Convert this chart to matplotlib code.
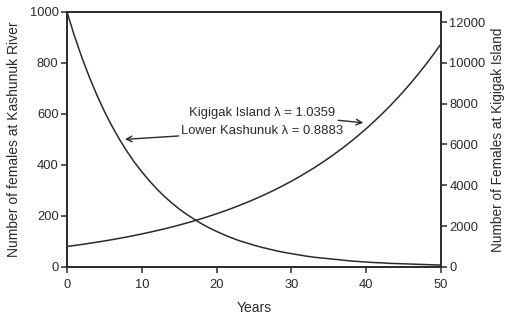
import matplotlib
matplotlib.use("Agg")
import matplotlib.pyplot as plt

plt.rcParams['font.family'] = ['Liberation Sans', 'DejaVu Sans']

# projected number of females, year by year
years = list(range(51))
kashunuk = [1000, 906, 821, 744, 674, 610, 553, 501, 454, 411,
            373, 338, 306, 277, 251, 227, 206, 187, 169, 153,
            139, 126, 114, 103, 94, 85, 77, 70, 63, 57,
            52, 47, 42, 38, 35, 32, 29, 26, 23, 21,
            19, 17, 16, 14, 13, 12, 11, 10, 9, 8, 7]
kigigak = [1000, 1049, 1100, 1154, 1211, 1270, 1332, 1398, 1466, 1538,
           1613, 1693, 1776, 1862, 1954, 2049, 2150, 2255, 2366, 2482,
           2603, 2731, 2865, 3005, 3152, 3307, 3469, 3639, 3817, 4004,
           4200, 4406, 4622, 4849, 5086, 5336, 5597, 5871, 6159, 6461,
           6777, 7109, 7458, 7823, 8207, 8609, 9031, 9473, 9938, 10425, 10935]

lam_kigigak = "1.0359"
lam_kashunuk = "0.8883"

ink = "#2a2a2a"

fig = plt.figure(figsize=(5.07, 3.2), dpi=100)
ax = fig.add_axes([0.132, 0.166, 0.738, 0.797])
ax2 = ax.twinx()

ax.plot(years, kashunuk, color=ink, lw=1.1)
ax2.plot(years, kigigak, color=ink, lw=1.1)

ax.set_xlim(0, 50)
ax.set_ylim(0, 1000)
ax2.set_ylim(0, 12500)
ax.set_xticks([0, 10, 20, 30, 40, 50])
ax.set_yticks([0, 200, 400, 600, 800, 1000])
ax2.set_yticks([0, 2000, 4000, 6000, 8000, 10000, 12000])

for a in (ax, ax2):
    for s in a.spines.values():
        s.set_color(ink)
        s.set_linewidth(1.2)
    a.tick_params(colors=ink, labelsize=9.3, length=4, width=1.1,
                  direction='out', pad=2)
ax.tick_params(axis='x', pad=5)

ax.set_xlabel("Years", fontsize=10, color=ink, labelpad=7)
ax.set_ylabel("Number of females at Kashunuk River", fontsize=10, color=ink,
              labelpad=6)
ax2.set_ylabel("Number of Females at Kigigak Island", fontsize=9.8, color=ink,
               labelpad=4)

arrow = dict(arrowstyle="->", color=ink, lw=1.0, shrinkA=0, shrinkB=0,
             mutation_scale=10)
ax.annotate("Kigigak Island \u03bb = " + lam_kigigak, xy=(39.6, 565),
            xytext=(35.9, 604), fontsize=9.4, color=ink,
            ha='right', va='center', arrowprops=arrow)
ax.annotate("Lower Kashunuk \u03bb = " + lam_kashunuk, xy=(7.75, 500),
            xytext=(15.3, 534), fontsize=9.4, color=ink,
            ha='left', va='center', arrowprops=arrow)

fig.savefig("out.png", dpi=100)
